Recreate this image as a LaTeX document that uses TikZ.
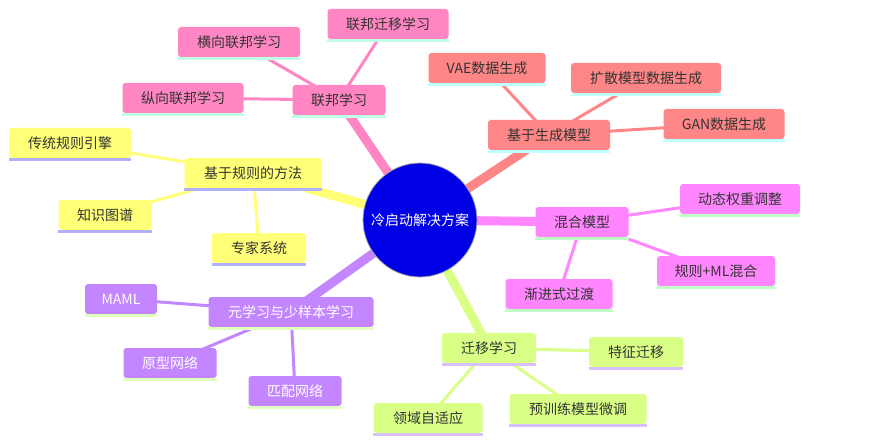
\documentclass[tikz,border=0pt]{standalone}
\usepackage{fontspec}
\setmainfont{Noto Sans CJK SC}
\usetikzlibrary{backgrounds}
\definecolor{cyel}{HTML}{FFFF78}
\definecolor{cgrn}{HTML}{D9FF86}
\definecolor{cpur}{HTML}{C386FF}
\definecolor{cmag}{HTML}{FF86FF}
\definecolor{cpnk}{HTML}{FF86C2}
\definecolor{csal}{HTML}{FF8686}
\definecolor{ucyel}{HTML}{B0B0FF}
\definecolor{ucgrn}{HTML}{D8C0FF}
\definecolor{ucpur}{HTML}{E2FFC0}
\definecolor{ucmag}{HTML}{C0FFC4}
\definecolor{ucpnk}{HTML}{C0FFE6}
\definecolor{ucsal}{HTML}{C0FFFF}
\definecolor{ctxt}{HTML}{333333}
\definecolor{croot}{HTML}{0000E6}
\tikzset{
  box/.style={rounded corners=3pt, minimum height=30pt, inner xsep=0pt,
    font=\fontsize{14}{16}\selectfont, text=ctxt},
  thick edge/.style={line width=9pt},
  thin edge/.style={line width=3pt},
}
\newcommand{\mmnode}[7]{%
  \node[box, fill=c#2, minimum width=#5pt, #7] (#1) at (#3,#4) {#6};
  \fill[uc#2] (#1.south west) rectangle ([yshift=-3pt]#1.south east);
}
\begin{document}
\begin{tikzpicture}[x=1pt,y=-1pt]
\useasboundingbox (0,0) rectangle (872,441);
% root
\node[circle, fill=croot, draw=gray!70, line width=0.8pt, minimum size=114pt, inner sep=0pt,
  font=\fontsize{14}{16}\selectfont, text=white] (root) at (420,220) {冷启动解决方案};
% federated (pink)
\mmnode{fed}{pnk}{339}{100}{93}{联邦学习}{}
\mmnode{hfl}{pnk}{239}{42}{122}{横向联邦学习}{}
\mmnode{ftl}{pnk}{388}{24}{121}{联邦迁移学习}{}
\mmnode{vfl}{pnk}{183}{98}{121}{纵向联邦学习}{}
% generative (salmon)
\mmnode{gen}{sal}{549}{135}{122}{基于生成模型}{}
\mmnode{vae}{sal}{487}{68}{117}{VAE数据生成}{}
\mmnode{dif}{sal}{646}{78}{150}{扩散模型数据生成}{}
\mmnode{gan}{sal}{724}{124}{121}{GAN数据生成}{}
% rules (yellow)
\mmnode{rule}{yel}{253}{173}{137}{基于规则的方法}{}
\mmnode{trad}{yel}{70}{143}{122}{传统规则引擎}{}
\mmnode{kg}{yel}{105}{215}{93}{知识图谱}{}
\mmnode{exp}{yel}{259}{248}{94}{专家系统}{}
% hybrid (magenta)
\mmnode{mix}{mag}{582}{222}{93}{混合模型}{}
\mmnode{dyn}{mag}{740}{199}{120}{动态权重调整}{}
\mmnode{rml}{mag}{716}{271}{118}{规则+ML混合}{}
\mmnode{prog}{mag}{559}{294}{107}{渐进式过渡}{}
% meta (purple)
\mmnode{meta}{pur}{291}{312}{165}{元学习与少样本学习}{text=white}
\mmnode{maml}{pur}{121}{299}{72}{MAML}{text=white}
\mmnode{proto}{pur}{170}{363}{93}{原型网络}{text=white}
\mmnode{match}{pur}{295}{391}{93}{匹配网络}{text=white}
% transfer (green)
\mmnode{tl}{grn}{489}{348}{94}{迁移学习}{}
\mmnode{feat}{grn}{636}{352}{94}{特征迁移}{}
\mmnode{pre}{grn}{578}{409}{137}{预训练模型微调}{}
\mmnode{da}{grn}{428}{418}{109}{领域自适应}{}
\begin{scope}[on background layer]
\draw[thick edge, cpnk] (root.center) -- (fed.center);
\draw[thick edge, csal] (root.center) -- (gen.center);
\draw[thick edge, cyel] (root.center) -- (rule.center);
\draw[thick edge, cmag] (root.center) -- (mix.center);
\draw[thick edge, cpur] (root.center) -- (meta.center);
\draw[thick edge, cgrn] (root.center) -- (tl.center);
\draw[thin edge, cpnk] (fed.center) -- (hfl.center);
\draw[thin edge, cpnk] (fed.center) -- (ftl.center);
\draw[thin edge, cpnk] (fed.center) -- (vfl.center);
\draw[thin edge, csal] (gen.center) -- (vae.center);
\draw[thin edge, csal] (gen.center) -- (dif.center);
\draw[thin edge, csal] (gen.center) -- (gan.center);
\draw[thin edge, cyel] (rule.center) -- (trad.center);
\draw[thin edge, cyel] (rule.center) -- (kg.center);
\draw[thin edge, cyel] (rule.center) -- (exp.center);
\draw[thin edge, cmag] (mix.center) -- (dyn.center);
\draw[thin edge, cmag] (mix.center) -- (rml.center);
\draw[thin edge, cmag] (mix.center) -- (prog.center);
\draw[thin edge, cpur] (meta.center) -- (maml.center);
\draw[thin edge, cpur] (meta.center) -- (proto.center);
\draw[thin edge, cpur] (meta.center) -- (match.center);
\draw[thin edge, cgrn] (tl.center) -- (feat.center);
\draw[thin edge, cgrn] (tl.center) -- (pre.center);
\draw[thin edge, cgrn] (tl.center) -- (da.center);
\end{scope}
\end{tikzpicture}
\end{document}
